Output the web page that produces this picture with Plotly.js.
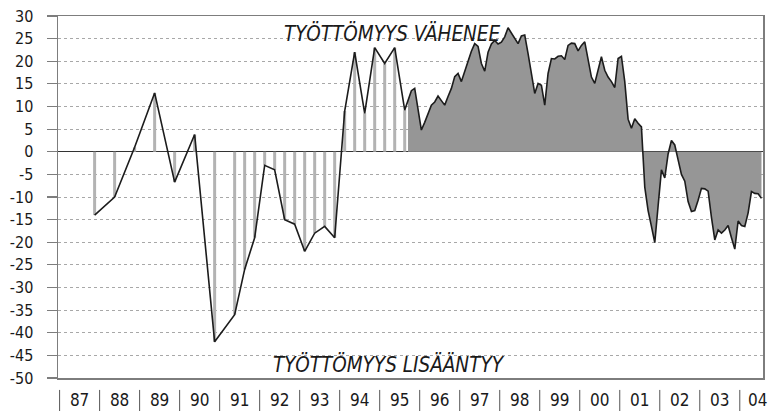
<!DOCTYPE html>
<html><head><meta charset="utf-8">
<script src="https://cdn.plot.ly/plotly-3.0.1.min.js"></script>
<style>html,body{margin:0;padding:0;background:#fff}</style>
</head><body><div id="chart" style="width:771px;height:411px"></div>
<script>
// Survey points (half-yearly, later quarterly): "YYYY-MM"
const surveyDates = ['1987-11','1988-05','1988-11','1989-05','1989-11','1990-05','1990-11',
  '1991-05','1991-08','1991-11','1992-02','1992-05','1992-08','1992-11','1993-02','1993-05',
  '1993-08','1993-11','1994-02','1994-05','1994-08','1994-11','1995-02','1995-05','1995-08'];
const surveyValues = [-14,-10,1,13,-6.7,3.8,-42,-36,-26,-19,-3,-4,-15,-16,-22,-18,-16.5,-19,
  9,22,8.5,23,19.5,23,9.2];

// Monthly series from Sep 1995
const monthlyStart = [1995, 9];
const monthlyValues = [
  11.5,13.5,14,9.5,                                         // 1995 Sep-Dec
  4.8,6.5,8.5,10.3,11,12.3,11.3,10.3,12.2,14,16.6,17.3,     // 1996
  15.5,17.7,20.2,22.2,23.9,23.3,19.5,17.8,22,23.8,24.6,23.8,// 1997
  24.2,25.4,27.4,26.2,25.2,23.9,25.6,25.8,21.7,16.9,12.9,15.1, // 1998
  14.7,10.3,17.3,20.6,20.5,21.1,21.2,20.4,23.5,24,23.9,22.3,// 1999
  23.5,24.3,20.5,16.5,15.1,18,21,18,16.5,15.5,14.2,20.6,    // 2000
  21.1,15.5,7.2,5.2,7.3,6.3,5.5,-7.8,-13,-16.5,-20.1,-12,   // 2001
  -4,-5.8,-0.5,2.5,1.5,-1.8,-5,-6.5,-11,-13.2,-13,-10.7,    // 2002
  -8.1,-8.2,-8.7,-14.5,-19.5,-17.3,-18,-17.3,-16.3,-19,-21.5,-15.3, // 2003
  -16.3,-16.5,-13.5,-8.8,-9.2,-9.3,-10.3                    // 2004
];

const yearLabels = ['87','88','89','90','91','92','93','94','95','96','97','98','99','00','01','02','03','04'];
const firstYear = 1987;
const yTickVals = [30,25,20,15,10,5,0,-5,-10,-15,-20,-25,-30,-35,-40,-45,-50];
const yTickText = ['30','25','20','15','10','5','0','-5','-10','-15','-20','-25','-30','-35','-40','-45','-50'];
const upperText = 'TYÖTTÖMYYS VÄHENEE';
const lowerText = 'TYÖTTÖMYYS LISÄÄNTYY';

// helpers
function decYear(y, m) { return y + (m - 0.5) / 12; }
const surveyX = surveyDates.map(d => { const p = d.split('-'); return decYear(+p[0], +p[1]); });
const monthlyX = monthlyValues.map((v, i) => {
  const idx = (monthlyStart[1] - 1) + i;
  return decYear(monthlyStart[0] + Math.floor(idx / 12), (idx % 12) + 1);
});
const lineX = surveyX.concat(monthlyX);
const lineY = surveyValues.concat(monthlyValues);

const FONT = '"DejaVu Sans Condensed", "Liberation Sans Narrow", sans-serif';
const frameColor = '#7d7d7d';

const traces = [
  { type: 'bar', x: surveyX, y: surveyValues, width: 0.075,
    marker: { color: '#b3b3b3', line: { width: 0 } }, hoverinfo: 'skip' },
  { type: 'scatter', mode: 'none', x: monthlyX, y: monthlyValues, fill: 'tozeroy',
    fillcolor: '#969696', hoverinfo: 'skip' },
  { type: 'scatter', mode: 'lines', x: lineX, y: lineY,
    line: { color: '#1c1c1c', width: 1.6 } }
];

const labelPos = yearLabels.map((l, i) => i === yearLabels.length - 1 ? firstYear + i + 0.45 : firstYear + i + 0.5);
const separators = yearLabels.map((l, i) => ({
  type: 'line', xref: 'x', yref: 'paper', x0: firstYear + i, x1: firstYear + i,
  y0: -0.033, y1: -0.095, line: { color: '#555', width: 1 }
}));

const layout = {
  width: 771, height: 411,
  margin: { l: 58, r: 8, t: 16, b: 33 },
  paper_bgcolor: '#fff', plot_bgcolor: '#fff',
  showlegend: false, barmode: 'overlay',
  font: { family: FONT, color: '#1a1a1a' },
  xaxis: {
    range: [1986.96, 2004.58], showgrid: false, zeroline: false,
    showline: true, mirror: true, linecolor: frameColor, linewidth: 1.5,
    tickmode: 'array', tickvals: labelPos, ticktext: yearLabels,
    ticks: 'outside', ticklen: 6, tickcolor: 'rgba(0,0,0,0)',
    tickfont: { size: 17, family: FONT, color: '#1a1a1a' }
  },
  yaxis: {
    range: [-50, 30], tickmode: 'array', tickvals: yTickVals, ticktext: yTickText,
    ticks: 'outside', ticklen: 10, tickcolor: frameColor, tickwidth: 1.2,
    ticklabelstandoff: 10,
    showline: true, mirror: true, linecolor: frameColor, linewidth: 1.5,
    showgrid: true, gridcolor: '#a8a8a8', griddash: 'dot', gridwidth: 1,
    zeroline: true, zerolinecolor: '#333', zerolinewidth: 1.3,
    tickfont: { size: 16, family: FONT, color: '#1a1a1a' }
  },
  shapes: separators,
  annotations: [
    { xref: 'x', yref: 'y', x: 1995.33, y: 26.2, text: '<i>' + upperText + '</i>', showarrow: false,
      font: { size: 20.5, family: FONT, color: '#1a1a1a' }, xanchor: 'center', yanchor: 'middle' },
    { xref: 'x', yref: 'y', x: 1995.23, y: -47.1, text: '<i>' + lowerText + '</i>', showarrow: false,
      font: { size: 20.5, family: FONT, color: '#1a1a1a' }, xanchor: 'center', yanchor: 'middle' }
  ]
};

Plotly.newPlot('chart', traces, layout, { staticPlot: true, displayModeBar: false });
</script>
</body></html>
